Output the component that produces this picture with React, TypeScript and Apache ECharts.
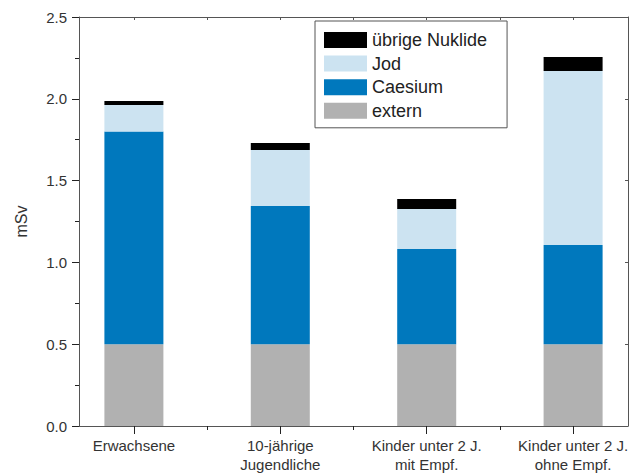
import React, { useEffect, useRef } from "react";
import * as echarts from "echarts";

const categories = ["Erwachsene", "10-jährige\nJugendliche", "Kinder unter 2 J.\nmit Empf.", "Kinder unter 2 J.\nohne Empf."];
const positions = [1, 2, 3, 4];
const extern = [0.5, 0.5, 0.5, 0.5];
const caesium = [1.3, 0.845, 0.582, 0.606];
const jod = [0.162, 0.342, 0.244, 1.064];
const uebrige = [0.025, 0.043, 0.062, 0.085];
const yTicks = [0, 0.5, 1.0, 1.5, 2.0, 2.5];
const minorX = [1.5, 2.5, 3.5];

const FONT = "Liberation Sans";
const AXIS = "#555";
const TXT = "#333";

export default function App() {
  const ref = useRef<HTMLDivElement>(null);
  useEffect(() => {
    if (!ref.current) return;
    const chart = echarts.init(ref.current, undefined, { renderer: "svg" });
    const mk = (name: string, vals: number[], color: string) => ({
      name,
      type: "bar",
      stack: "total",
      xAxisIndex: 0,
      yAxisIndex: 0,
      barWidth: 59,
      itemStyle: { color },
      encode: { x: 1, y: 0 },
      data: positions.map((p, i) => [vals[i], p]),
    });
    chart.setOption({
      animation: false,
      textStyle: { fontFamily: FONT },
      grid: { left: 79, right: 4, top: 17, bottom: 49 },
      legend: {
        data: ["übrige Nuklide", "Jod", "Caesium", "extern"],
        orient: "vertical",
        left: 315,
        top: 21,
        itemWidth: 43,
        itemHeight: 16,
        itemGap: 5.6,
        padding: [10, 20, 8, 9],
        borderColor: "#555",
        borderWidth: 1,
        icon: "rect",
        textStyle: { fontSize: 18, lineHeight: 16, color: "#222", fontFamily: FONT },
      },
      xAxis: [
        {
          type: "value",
          min: 0.625,
          max: 4.375,
          position: "bottom",
          splitLine: { show: false },
          axisLine: { show: true, lineStyle: { color: AXIS, width: 1 } },
          axisTick: { show: true, customValues: positions, length: 8, lineStyle: { color: "#222" } },
          axisLabel: {
            customValues: positions,
            formatter: (v: number) => categories[Math.round(v) - 1] ?? "",
            fontSize: 15,
            color: TXT,
            lineHeight: 19,
            margin: 10,
            fontFamily: FONT,
          },
        },
        {
          type: "value",
          min: 0.625,
          max: 4.375,
          position: "bottom",
          splitLine: { show: false },
          axisLine: { show: false },
          axisTick: { show: true, customValues: minorX, length: 4, lineStyle: { color: "#222" } },
          axisLabel: { show: false },
        },
        {
          type: "value",
          min: 0.625,
          max: 4.375,
          position: "top",
          splitLine: { show: false },
          axisLine: { show: true, lineStyle: { color: AXIS, width: 1 } },
          axisTick: { show: true, inside: true, customValues: [...positions, ...minorX], length: 3, lineStyle: { color: AXIS } },
          axisLabel: { show: false },
        },
      ],
      yAxis: [
        {
          type: "value",
          min: 0,
          max: 2.5,
          interval: 0.5,
          name: "mSv",
          nameLocation: "middle",
          nameGap: 50,
          nameRotate: 90,
          nameTextStyle: { fontSize: 16, color: TXT, fontFamily: FONT },
          splitLine: { show: false },
          axisLine: { show: true, lineStyle: { color: AXIS, width: 1 } },
          axisTick: { show: true, length: 7, lineStyle: { color: "#222" } },
          minorTick: { show: true, splitNumber: 2, length: 4, lineStyle: { color: "#222" } },
          axisLabel: {
            formatter: (v: number) => v.toFixed(1),
            fontSize: 15,
            color: TXT,
            margin: 12,
            fontFamily: FONT,
            customValues: yTicks,
          },
        },
        {
          type: "value",
          min: 0,
          max: 2.5,
          interval: 0.5,
          position: "right",
          splitLine: { show: false },
          axisLine: { show: true, lineStyle: { color: AXIS, width: 1 } },
          axisTick: { show: true, inside: true, length: 3, lineStyle: { color: AXIS } },
          axisLabel: { show: false },
        },
      ],
      series: [
        mk("extern", extern, "#b1b1b1"),
        mk("Caesium", caesium, "#0078bd"),
        mk("Jod", jod, "#cce3f1"),
        mk("übrige Nuklide", uebrige, "#000000"),
      ],
    });
    return () => chart.dispose();
  }, []);
  return <div ref={ref} style={{ width: 632, height: 475, position: "absolute", left: 0, top: 0 }} />;
}
